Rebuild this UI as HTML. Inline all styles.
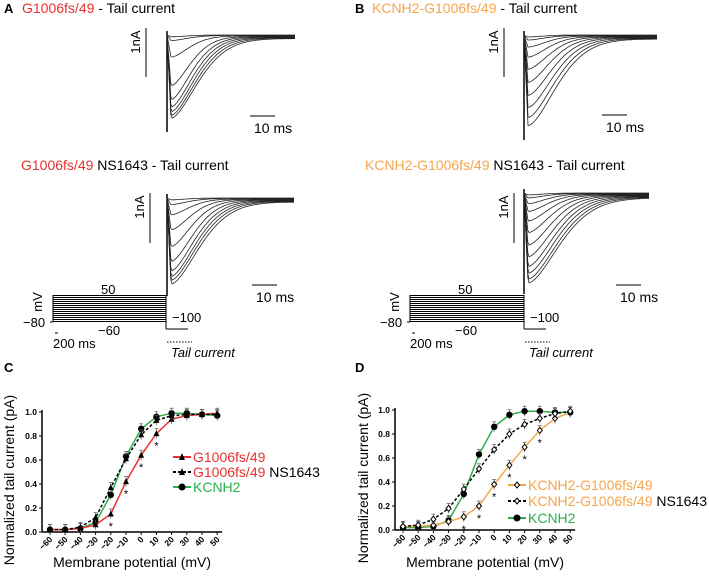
<!DOCTYPE html>
<html><head><meta charset="utf-8">
<style>
body{margin:0;background:#fff;}
svg{display:block;font-family:"Liberation Sans",sans-serif;}
</style></head><body>
<svg id="fig" width="709" height="576" viewBox="0 0 709 576" xmlns="http://www.w3.org/2000/svg">
<g font-weight="bold" font-size="13">
<text x="4" y="13">A</text>
<text x="355" y="13">B</text>
<text x="4" y="372">C</text>
<text x="355" y="372">D</text>
</g>
<g font-size="14">
<text x="22" y="13"><tspan fill="#e8312f">G1006fs/49</tspan> - Tail current</text>
<text x="21" y="170"><tspan fill="#e8312f">G1006fs/49</tspan> NS1643 - Tail current</text>
<text x="372" y="13"><tspan fill="#f5a54a">KCNH2-G1006fs/49</tspan> - Tail current</text>
<text x="365" y="170"><tspan fill="#f5a54a">KCNH2-G1006fs/49</tspan> NS1643 - Tail current</text>
</g>
<g id="traces"></g>
<g id="charts"></g>
</svg>
<script>
// trace peak amplitudes (fraction of full deflection)
const tracesA = [0.02,0.06,0.24,0.55,0.70,0.78,0.83,0.87,0.90];
const tracesA2 = [0.02,0.07,0.18,0.34,0.52,0.68,0.78,0.84,0.88,0.92];
const tracesB = [0.02,0.05,0.12,0.22,0.34,0.47,0.60,0.72,0.82,0.90];
const tracesB2 = [0.02,0.05,0.11,0.19,0.29,0.41,0.54,0.66,0.76,0.83,0.89,0.93];
// chart data
const voltages = [-60,-50,-40,-30,-20,-10,0,10,20,30,40,50];
const yTicks = [0,0.2,0.4,0.6,0.8,1.0];
const cMutant = [0.02,0.02,0.03,0.06,0.15,0.42,0.64,0.82,0.94,0.97,0.98,0.99];
const cMutantNS = [0.02,0.02,0.04,0.12,0.37,0.61,0.81,0.93,0.97,0.98,0.98,0.98];
const cWT = [0.02,0.02,0.03,0.08,0.31,0.63,0.86,0.96,0.99,0.99,0.98,0.97];
const cStars = [-20,-10,0,10];
const dMutant = [0.03,0.03,0.04,0.07,0.11,0.20,0.38,0.54,0.69,0.83,0.93,0.98];
const dMutantNS = [0.03,0.04,0.09,0.18,0.34,0.51,0.67,0.80,0.88,0.93,0.97,0.99];
const dWT = [0.02,0.02,0.03,0.08,0.30,0.63,0.86,0.96,0.99,0.99,0.98,0.98];
const dStars = [-20,-10,0,10,20,30];

const NS='http://www.w3.org/2000/svg';
function el(tag,attrs,parent,txt){const e=document.createElementNS(NS,tag);for(const k in attrs)e.setAttribute(k,attrs[k]);if(txt!==undefined)e.textContent=txt;parent.appendChild(e);return e;}
const T=document.getElementById('traces');

function tracePanel(amps,x0,y0,depth,x1,sbX,sbY,sbH,hbX,hbY,name){
  const g=el('g',{},T);
  
  
  el('line',{x1:x0,y1:y0-4,x2:x0,y2:y0+depth+5,stroke:'#000','stroke-width':1.5},g);
  amps.forEach((a,i)=>{
    const W=x1-x0;let d='M'+x0+','+y0;
    for(let k=0;k<=100;k++){
      const t=k/100*W;
      let v;
      if(t<4){v=a*(t/4);}else{const tt=t-4;v=a*Math.exp(-Math.pow(tt/(21+i*2),1.6));}
      const y=y0+ (v*depth) + (1-Math.exp(-t/30))*i*0.45;
      d+=' L'+(x0+t).toFixed(1)+','+y.toFixed(1);
    }
    const p=el('path',{d:d,fill:'none',stroke:'#222','stroke-width':0.8},g);
    
    
  });
  el('line',{x1:sbX,y1:sbY,x2:sbX,y2:sbY+sbH,stroke:'#000','stroke-width':1},g);
  el('text',{x:sbX-6,y:sbY+14,'font-size':13,transform:'rotate(-90 '+(sbX-6)+' '+(sbY+14)+')','text-anchor':'middle'},g,'1nA');
  el('line',{x1:hbX,y1:hbY,x2:hbX+25,y2:hbY,stroke:'#000','stroke-width':1},g);
  el('text',{x:hbX+4,y:hbY+17,'font-size':14},g,'10 ms');
}
tracePanel(tracesA,167,35,92,295,146,28,49,250,116,'trace-panel-a');
tracePanel(tracesA2,167,198,93,294,150,193,50,252,285,'trace-panel-a2');
tracePanel(tracesB,524,35,100,657,504,28,49,602,115,'trace-panel-b');
tracePanel(tracesB2,524,193,96,649,514,193,50,616,285,'trace-panel-b2');

function protocol(x0,x1,dx,name){
  const g=el('g',{},T);
  
  
  for(let i=0;i<14;i++){const y=295.5+i*2;el('line',{x1:x0,y1:y,x2:x1,y2:y,stroke:'#000','stroke-width':0.9,'shape-rendering':'crispEdges'},g);}
  el('line',{x1:x0,y1:295,x2:x0,y2:322,stroke:'#000','stroke-width':1},g);
  el('line',{x1:x0-3,y1:322,x2:x0,y2:322,stroke:'#000','stroke-width':1},g);
  el('line',{x1:x1,y1:295,x2:x1,y2:329,stroke:'#000','stroke-width':1},g);
  el('line',{x1:x1,y1:329,x2:x1+22,y2:329,stroke:'#000','stroke-width':1},g);
  el('line',{x1:x1+1,y1:342,x2:x1+26,y2:342,stroke:'#000','stroke-width':1,'stroke-dasharray':'1.5,1.5'},g);
  el('line',{x1:x0+2,y1:333,x2:x0+5,y2:333,stroke:'#000','stroke-width':1},g);
  el('text',{x:x0-30,y:327,'font-size':13},g,'\u221280');
  el('text',{x:x0-11,y:302,'font-size':13,transform:'rotate(-90 '+(x0-11)+' 302)','text-anchor':'middle'},g,'mV');
  el('text',{x:x0+48,y:294,'font-size':13},g,'50');
  el('text',{x:x0+45,y:335,'font-size':13},g,'\u221260');
  el('text',{x:x0,y:348,'font-size':13},g,'200 ms');
  el('text',{x:x1+6,y:322,'font-size':13},g,'\u2212100');
  el('text',{x:x1+5,y:357,'font-size':13,'font-style':'italic'},g,'Tail current');
}
protocol(53,166,0,'voltage-protocol-a');
protocol(410,524,0,'voltage-protocol-b');

const C=document.getElementById('charts');
function chart(ox,x0,xStep,yTop,yBot,series,stars,legend,name){
  const g=el('g',{},C);
  
  
  const sx=v=>x0+(v-voltages[0])/10*xStep;
  const sy=v=>yBot-v*(yBot-yTop);
  const axL=x0-8, axR=sx(voltages[voltages.length-1])+5;
  el('line',{x1:axL,y1:yTop-2,x2:axL,y2:yBot,stroke:'#000','stroke-width':1.5},g);
  el('line',{x1:axL,y1:yBot,x2:axR,y2:yBot,stroke:'#000','stroke-width':1.5},g);
  yTicks.forEach(t=>{
    el('line',{x1:axL-3,y1:sy(t),x2:axL,y2:sy(t),stroke:'#000'},g);
    const tx=el('text',{x:axL-5,y:sy(t)+3,'font-size':8.5,'font-weight':'bold','text-anchor':'end'},g,t.toFixed(1));
    
    
  });
  voltages.forEach(v=>{
    el('line',{x1:sx(v),y1:yBot,x2:sx(v),y2:yBot+3,stroke:'#000'},g);
    const tx=el('text',{x:sx(v)+3,y:yBot+8,'font-size':8.5,'font-weight':'bold','text-anchor':'end',transform:'rotate(-45 '+(sx(v)+3)+' '+(yBot+8)+')'},g,v<0?'\u2212'+(-v):String(v));
    
    
  });
  const xt=el('text',{x:(axL+axR)/2,y:567,'font-size':14,'text-anchor':'middle'},g,'Membrane potential (mV)');
  
  
  const yx=ox+14, yy=(yTop+yBot)/2+8;
  const yt=el('text',{x:yx,y:yy,'font-size':14,'text-anchor':'middle',transform:'rotate(-90 '+yx+' '+yy+')'},g,'Normalized tail current (pA)');
  
  
  series.forEach(s=>{
    const pts=voltages.map((v,i)=>sx(v)+','+sy(s.vals[i])).join(' ');
    const pl=el('polyline',{points:pts,fill:'none',stroke:s.color,'stroke-width':1.5,'stroke-dasharray':s.dash||'none'},g);
    
    
    voltages.forEach((v,i)=>{
      const x=sx(v),y=sy(s.vals[i]);
      el('line',{x1:x,y1:y-5,x2:x,y2:y+5,stroke:'#555','stroke-width':0.7},g);
      el('line',{x1:x-2,y1:y-5,x2:x+2,y2:y-5,stroke:'#555','stroke-width':0.7},g);
      let m;
      if(s.marker==='tri') m=el('polygon',{points:(x-3)+','+(y+2.5)+' '+(x+3)+','+(y+2.5)+' '+x+','+(y-3.5),fill:'#000'},g);
      else if(s.marker==='dot') m=el('circle',{cx:x,cy:y,r:3.2,fill:'#000'},g);
      else m=el('polygon',{points:x+','+(y-3)+' '+(x+2.5)+','+y+' '+x+','+(y+3)+' '+(x-2.5)+','+y,fill:'#fff',stroke:'#000','stroke-width':1},g);
      
      
    });
  });
  stars.forEach(v=>{
    const i=voltages.indexOf(v);
    const low=Math.min(...series.map(s=>s.vals[i]));
    const st=el('text',{x:sx(v),y:sy(low)+16,'font-size':11,'text-anchor':'middle'},g,'*');
    
    
  });
  legend.forEach(l=>{
    const lg=el('g',{},g);
    
    
    el('line',{x1:l.x,y1:l.y-5,x2:l.x+18,y2:l.y-5,stroke:l.color,'stroke-width':2,'stroke-dasharray':l.dash||'none'},lg);
    if(l.marker==='tri') el('polygon',{points:(l.x+6)+','+(l.y-2)+' '+(l.x+12)+','+(l.y-2)+' '+(l.x+9)+','+(l.y-9),fill:'#000'},lg);
    else if(l.marker==='dot') el('circle',{cx:l.x+9,cy:l.y-5,r:3.5,fill:'#000'},lg);
    else el('polygon',{points:(l.x+9)+','+(l.y-8)+' '+(l.x+11.5)+','+(l.y-5)+' '+(l.x+9)+','+(l.y-2)+' '+(l.x+6.5)+','+(l.y-5),fill:'#fff',stroke:'#000'},lg);
    const t=el('text',{x:l.x+20,y:l.y,'font-size':14},lg);
    el('tspan',{fill:l.tcolor},t,l.label);
    if(l.extra) el('tspan',{fill:'#000'},t,' '+l.extra);
  });
}
chart(0,50,15.2,412,532,[
  {name:'kcnh2',vals:cWT,color:'#2bb04a',marker:'dot'},
  {name:'g1006fs',vals:cMutant,color:'#e8312f',marker:'tri'},
  {name:'g1006fs-ns1643',vals:cMutantNS,color:'#000',marker:'tri',dash:'3,2'}
],cStars,[
  {x:173,y:462,color:'#e8312f',tcolor:'#e8312f',marker:'tri',label:'G1006fs/49'},
  {x:173,y:477,color:'#000',dash:'3,2',tcolor:'#e8312f',marker:'tri',label:'G1006fs/49',extra:'NS1643'},
  {x:173,y:492,color:'#2bb04a',tcolor:'#2bb04a',marker:'dot',label:'KCNH2'}
],'chart-c');
chart(354,403,15.2,410,530,[
  {name:'kcnh2',vals:dWT,color:'#2bb04a',marker:'dot'},
  {name:'kcnh2-g1006fs',vals:dMutant,color:'#f5a54a',marker:'dia'},
  {name:'kcnh2-g1006fs-ns1643',vals:dMutantNS,color:'#000',marker:'dia',dash:'3,2'}
],dStars,[
  {x:508,y:490,color:'#f5a54a',tcolor:'#f5a54a',marker:'dia',label:'KCNH2-G1006fs/49'},
  {x:508,y:506,color:'#000',dash:'3,2',tcolor:'#f5a54a',marker:'dia',label:'KCNH2-G1006fs/49',extra:'NS1643'},
  {x:508,y:523,color:'#2bb04a',tcolor:'#2bb04a',marker:'dot',label:'KCNH2'}
],'chart-d');
</script>
</body></html>
